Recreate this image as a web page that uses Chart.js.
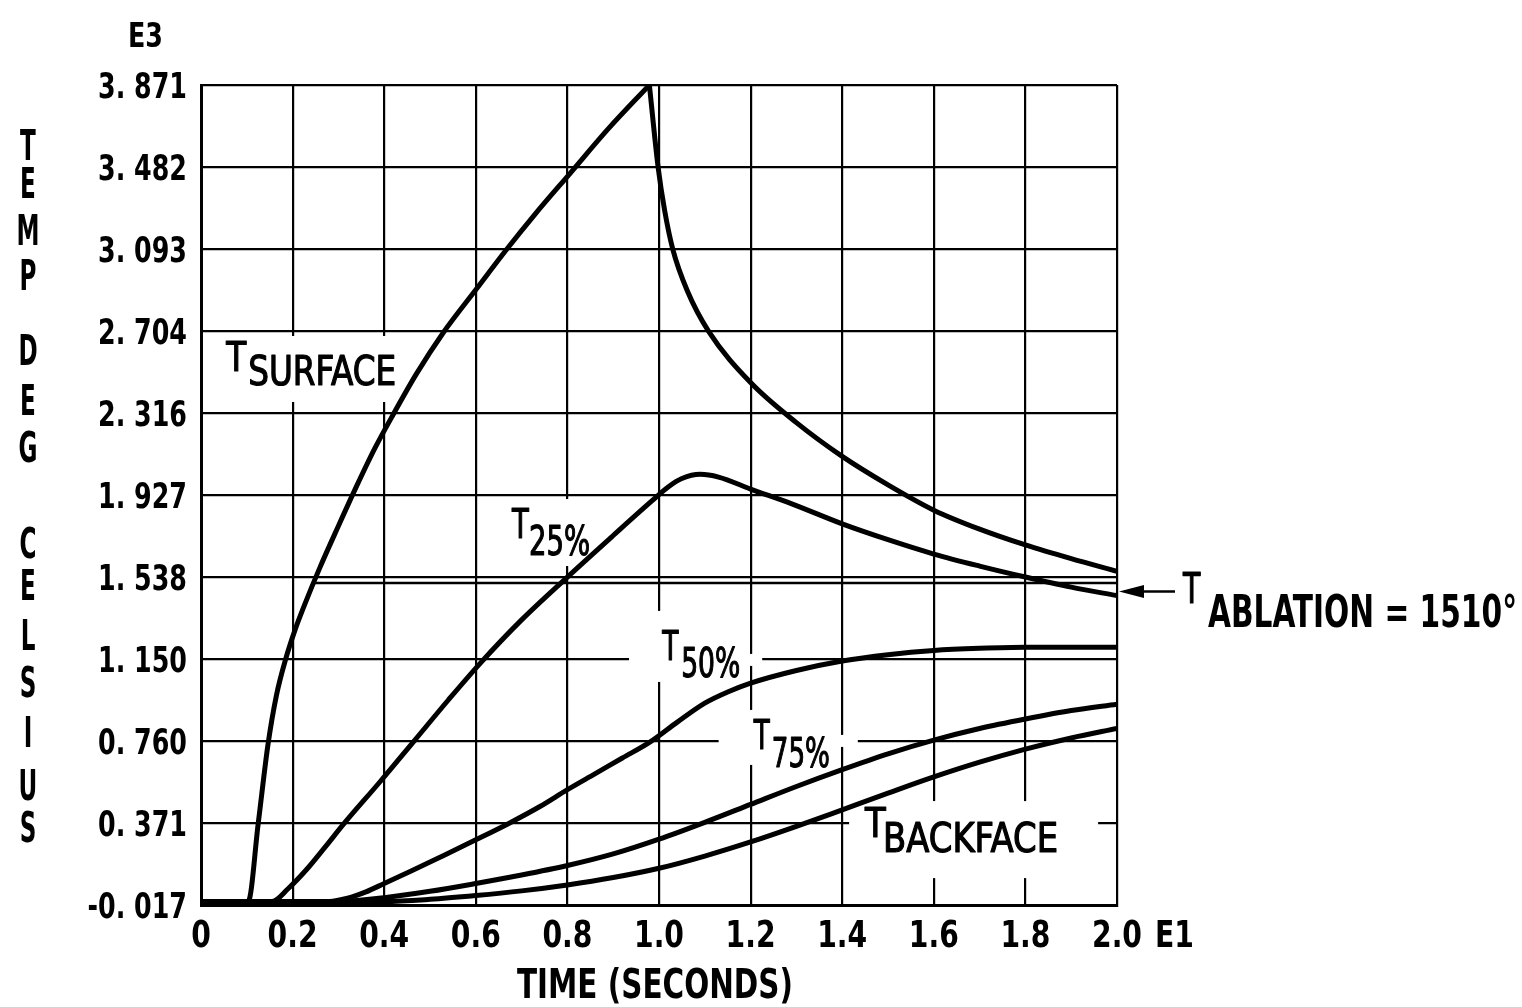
<!DOCTYPE html>
<html lang="en">
<head>
<meta charset="UTF-8" />
<title>Temperature vs Time</title>
<script src="https://cdn.jsdelivr.net/npm/chart.js"></script>
<style>
  html, body { margin: 0; padding: 0; background: #fff; overflow: hidden; }
  .wrap { width: 1522px; height: 1007px; position: relative; }
  canvas { display: block; }
</style>
</head>
<body>
<div class="wrap"><canvas id="tempChart"></canvas></div>
<script>
const FONT = "'Liberation Sans Narrow', 'DejaVu Sans Condensed', 'Roboto Condensed', sans-serif";

// axis ticks (time in E1 seconds, temperature in E3 deg C)
const xTickValues = [0, 0.2, 0.4, 0.6, 0.8, 1.0, 1.2, 1.4, 1.6, 1.8, 2.0];
const xTickLabels = ['0', '0.2', '0.4', '0.6', '0.8', '1.0', '1.2', '1.4', '1.6', '1.8', '2.0'];
const yTickValues = [-0.017, 0.371, 0.760, 1.150, 1.538, 1.927, 2.316, 2.704, 3.093, 3.482, 3.871];
const yTickLabels = ['-0. 017', '0. 371', '0. 760', '1. 150', '1. 538', '1. 927', '2. 316', '2. 704', '3. 093', '3. 482', '3. 871'];

// T surface: heating up to the peak, then cooling
const surfaceUpTime = [0, 0.103, 0.125, 0.146, 0.165, 0.185, 0.205, 0.225, 0.26, 0.30, 0.34, 0.38, 0.42, 0.47, 0.53, 0.60, 0.665, 0.73, 0.805, 0.89, 0.979];
const surfaceUpTemp = [0, 0, 0.371, 0.74, 0.98, 1.15, 1.285, 1.40, 1.585, 1.78, 1.97, 2.15, 2.31, 2.50, 2.70, 2.90, 3.085, 3.26, 3.45, 3.665, 3.871];
const surfaceDownTime = [0.979, 0.998, 1.012, 1.03, 1.062, 1.108, 1.2, 1.3, 1.4, 1.5, 1.6, 1.7, 1.8, 1.9, 2.0];
const surfaceDownTemp = [3.871, 3.482, 3.28, 3.093, 2.894, 2.704, 2.46, 2.27, 2.11, 1.975, 1.855, 1.765, 1.69, 1.625, 1.565];

// T 25%
const t25Time = [0, 0.155, 0.19, 0.23, 0.27, 0.313, 0.39, 0.467, 0.54, 0.61, 0.70, 0.80, 0.90, 0.985, 1.02, 1.05, 1.09, 1.13, 1.2, 1.29, 1.4, 1.5, 1.6, 1.7, 1.8, 1.9, 2.0];
const t25Temp = [0, 0, 0.06, 0.15, 0.255, 0.371, 0.565, 0.765, 0.955, 1.13, 1.335, 1.538, 1.735, 1.90, 1.965, 2.005, 2.025, 2.012, 1.955, 1.885, 1.79, 1.715, 1.647, 1.59, 1.538, 1.49, 1.45];

// T 50%
const t50Time = [0, 0.28, 0.32, 0.36, 0.40, 0.46, 0.53, 0.60, 0.673, 0.74, 0.80, 0.86, 0.92, 0.98, 1.04, 1.10, 1.15, 1.2, 1.3, 1.4, 1.5, 1.6, 1.7, 1.8, 2.0];
const t50Temp = [0, 0, 0.015, 0.045, 0.085, 0.145, 0.218, 0.292, 0.371, 0.45, 0.53, 0.605, 0.68, 0.755, 0.85, 0.94, 0.993, 1.035, 1.095, 1.14, 1.17, 1.19, 1.20, 1.205, 1.205];

// T 75%
const t75Time = [0, 0.30, 0.40, 0.50, 0.60, 0.70, 0.80, 0.90, 1.0, 1.1, 1.2, 1.3, 1.4, 1.5, 1.6, 1.7, 1.8, 1.9, 2.0];
const t75Temp = [0, 0, 0.018, 0.048, 0.085, 0.125, 0.17, 0.225, 0.295, 0.375, 0.46, 0.545, 0.625, 0.70, 0.765, 0.82, 0.865, 0.905, 0.935];

// T backface
const backTime = [0, 0.40, 0.50, 0.60, 0.70, 0.80, 0.90, 1.0, 1.1, 1.2, 1.3, 1.4, 1.5, 1.6, 1.7, 1.8, 1.9, 2.0];
const backTemp = [0, 0, 0.01, 0.028, 0.05, 0.078, 0.113, 0.157, 0.215, 0.282, 0.356, 0.434, 0.513, 0.59, 0.66, 0.722, 0.775, 0.82];

// ablation temperature line
const ablationTime = [0.243, 2.0];
const ablationTemp = [1.51, 1.51];
const ablationArrowTemp = 1.47;

const pts = (xs, ys) => xs.map((x, i) => ({ x: x, y: ys[i] }));

function curve(label, xs, ys) {
  return {
    label: label,
    data: pts(xs, ys),
    borderColor: '#000',
    borderWidth: 5,
    pointRadius: 0,
    fill: false,
    cubicInterpolationMode: 'monotone'
  };
}

// curve labels: T with a subscript, anchored at the T baseline (data units)
const curveLabels = [
  { sub: 'SURFACE',  at: [0.055, 2.515], dx: 22, dy: 14, w: 148, masks: [[-21, 175, -35, 31]] },
  { sub: '25%',      at: [0.679, 1.723], dx: 17, dy: 17, w: 61,  masks: [[-7, 86, -39, 28]] },
  { sub: '50%',      at: [1.007, 1.145], dx: 19, dy: 17, w: 59,  masks: [[-33, 86, -49, 22], [-33, 100, -6, 6]] },
  { sub: '75%',      at: [1.207, 0.723], dx: 18, dy: 18, w: 58,  masks: [[-35, 86, -39, 16], [-35, 104, -14, -2]] },
  { sub: 'BACKFACE', at: [1.450, 0.305], dx: 18, dy: 15, w: 175, masks: [[-16, 233, -36, 41]] }
];

const yTitleLetters = 'TEMPDEGCELSIUS'.split('');
const yTitleBaselines = [160, 198, 245, 290, 365, 415, 462, 558, 600, 650, 697, 747, 800, 842];

// draw text squeezed horizontally by sx, optionally thickened by a stroke
function squeezed(ctx, text, x, y, font, sx, align, thick) {
  ctx.save();
  ctx.font = font;
  ctx.textAlign = align || 'left';
  ctx.textBaseline = 'alphabetic';
  ctx.translate(x, y);
  ctx.scale(sx, 1);
  ctx.fillText(text, 0, 0);
  if (thick) {
    ctx.lineWidth = thick;
    ctx.lineJoin = 'round';
    ctx.strokeText(text, 0, 0);
  }
  ctx.restore();
}
function fitScale(ctx, text, font, width) {
  ctx.save();
  ctx.font = font;
  const w = ctx.measureText(text).width;
  ctx.restore();
  return Math.min(1, width / w);
}

const annotate = {
  id: 'annotate',
  beforeDatasetsDraw(chart) {
    const { ctx, scales: { x, y }, chartArea: a } = chart;
    ctx.save();
    ctx.fillStyle = '#fff';
    curveLabels.forEach(l => {
      const px = x.getPixelForValue(l.at[0]);
      const py = y.getPixelForValue(l.at[1]);
      l.masks.forEach(m => {
        const left = Math.max(px + m[0], a.left + 2);
        const right = Math.min(px + m[1], a.right - 2);
        ctx.fillRect(left, py + m[2], right - left, m[3] - m[2]);
      });
    });
    ctx.restore();
  },
  afterDraw(chart) {
    const { ctx, scales: { x, y } } = chart;
    ctx.save();
    ctx.fillStyle = '#000';
    ctx.strokeStyle = '#000';

    // tick labels
    const yFont = `bold 36px ${FONT}`;
    const ySx = fitScale(ctx, '3. 871', yFont, 89);
    yTickValues.forEach((v, i) => {
      squeezed(ctx, yTickLabels[i], 187, y.getPixelForValue(v) + 13, yFont, ySx, 'right');
    });
    const xFont = `bold 38px ${FONT}`;
    const xSx = fitScale(ctx, '0.2', xFont, 50);
    xTickValues.forEach((v, i) => {
      squeezed(ctx, xTickLabels[i], x.getPixelForValue(v), 947, xFont, xSx, 'center');
    });
    squeezed(ctx, 'E1', x.getPixelForValue(2.0) + 38, 947, xFont, xSx, 'left');

    // axis titles
    const tFont = `bold 40px ${FONT}`;
    squeezed(ctx, 'TIME (SECONDS)', 655, 998, tFont, fitScale(ctx, 'TIME (SECONDS)', tFont, 276), 'center');
    const lFont = `bold 42px ${FONT}`;
    const lSx = fitScale(ctx, 'M', lFont, 23);
    yTitleLetters.forEach((ch, i) => squeezed(ctx, ch, 28, yTitleBaselines[i], lFont, lSx, 'center'));
    squeezed(ctx, 'E3', 128, 47, `bold 34px ${FONT}`, fitScale(ctx, 'E3', `bold 34px ${FONT}`, 35), 'left');

    // curve labels
    const cFont = `41px ${FONT}`;
    curveLabels.forEach(l => {
      const px = x.getPixelForValue(l.at[0]);
      const py = y.getPixelForValue(l.at[1]);
      const sx = fitScale(ctx, l.sub, cFont, l.w);
      squeezed(ctx, 'T', px, py, cFont, sx, 'left', 1.2);
      squeezed(ctx, l.sub, px + l.dx, py + l.dy, cFont, sx, 'left', 1.2);
    });

    // ablation arrow and label, right of the plot
    const ay = y.getPixelForValue(ablationArrowTemp);
    const ax = x.getPixelForValue(2.0) + 2;
    ctx.lineWidth = 2.5;
    ctx.beginPath();
    ctx.moveTo(ax + 20, ay);
    ctx.lineTo(ax + 56, ay);
    ctx.stroke();
    ctx.beginPath();
    ctx.moveTo(ax, ay);
    ctx.lineTo(ax + 25, ay - 6.5);
    ctx.lineTo(ax + 25, ay + 6.5);
    ctx.closePath();
    ctx.fill();
    const tx = x.getPixelForValue(2.144);
    const ty = y.getPixelForValue(1.415);
    const aFont = `bold 44px ${FONT}`;
    const aSx = fitScale(ctx, 'ABLATION = 1510°', aFont, 309);
    squeezed(ctx, 'T', tx, ty, `42px ${FONT}`, aSx, 'left', 1.2);
    squeezed(ctx, 'ABLATION = 1510°', tx + 25, ty + 24, aFont, aSx);
    ctx.restore();
  }
};

const config = {
  type: 'line',
  data: {
    datasets: [
      curve('T SURFACE', surfaceUpTime, surfaceUpTemp),
      curve('T SURFACE (cooling)', surfaceDownTime, surfaceDownTemp),
      curve('T 25%', t25Time, t25Temp),
      curve('T 50%', t50Time, t50Temp),
      curve('T 75%', t75Time, t75Temp),
      curve('T BACKFACE', backTime, backTemp),
      {
        label: 'T ABLATION',
        data: pts(ablationTime, ablationTemp),
        borderColor: '#000',
        borderWidth: 2.5,
        pointRadius: 0,
        fill: false,
        tension: 0
      }
    ]
  },
  options: {
    responsive: true,
    maintainAspectRatio: false,
    animation: false,
    layout: { padding: { top: 85, right: 405, bottom: 0, left: 0 } },
    plugins: { legend: { display: false }, tooltip: { enabled: false } },
    scales: {
      x: {
        type: 'linear',
        min: 0,
        max: 2.0,
        afterBuildTicks: s => { s.ticks = xTickValues.map(v => ({ value: v })); },
        afterFit: s => { s.height = 102; },
        ticks: { display: false, autoSkip: false, maxRotation: 0 },
        grid: { color: '#000', lineWidth: 2.2, drawTicks: false },
        border: { color: '#000', width: 3 }
      },
      y: {
        type: 'linear',
        min: -0.017,
        max: 3.871,
        afterBuildTicks: s => { s.ticks = yTickValues.map(v => ({ value: v })); },
        afterFit: s => { s.width = 201; },
        ticks: { display: false },
        grid: { color: '#000', lineWidth: 2.2, drawTicks: false },
        border: { color: '#000', width: 3 }
      }
    }
  },
  plugins: [annotate]
};

new Chart(document.getElementById('tempChart'), config);
</script>
</body>
</html>
